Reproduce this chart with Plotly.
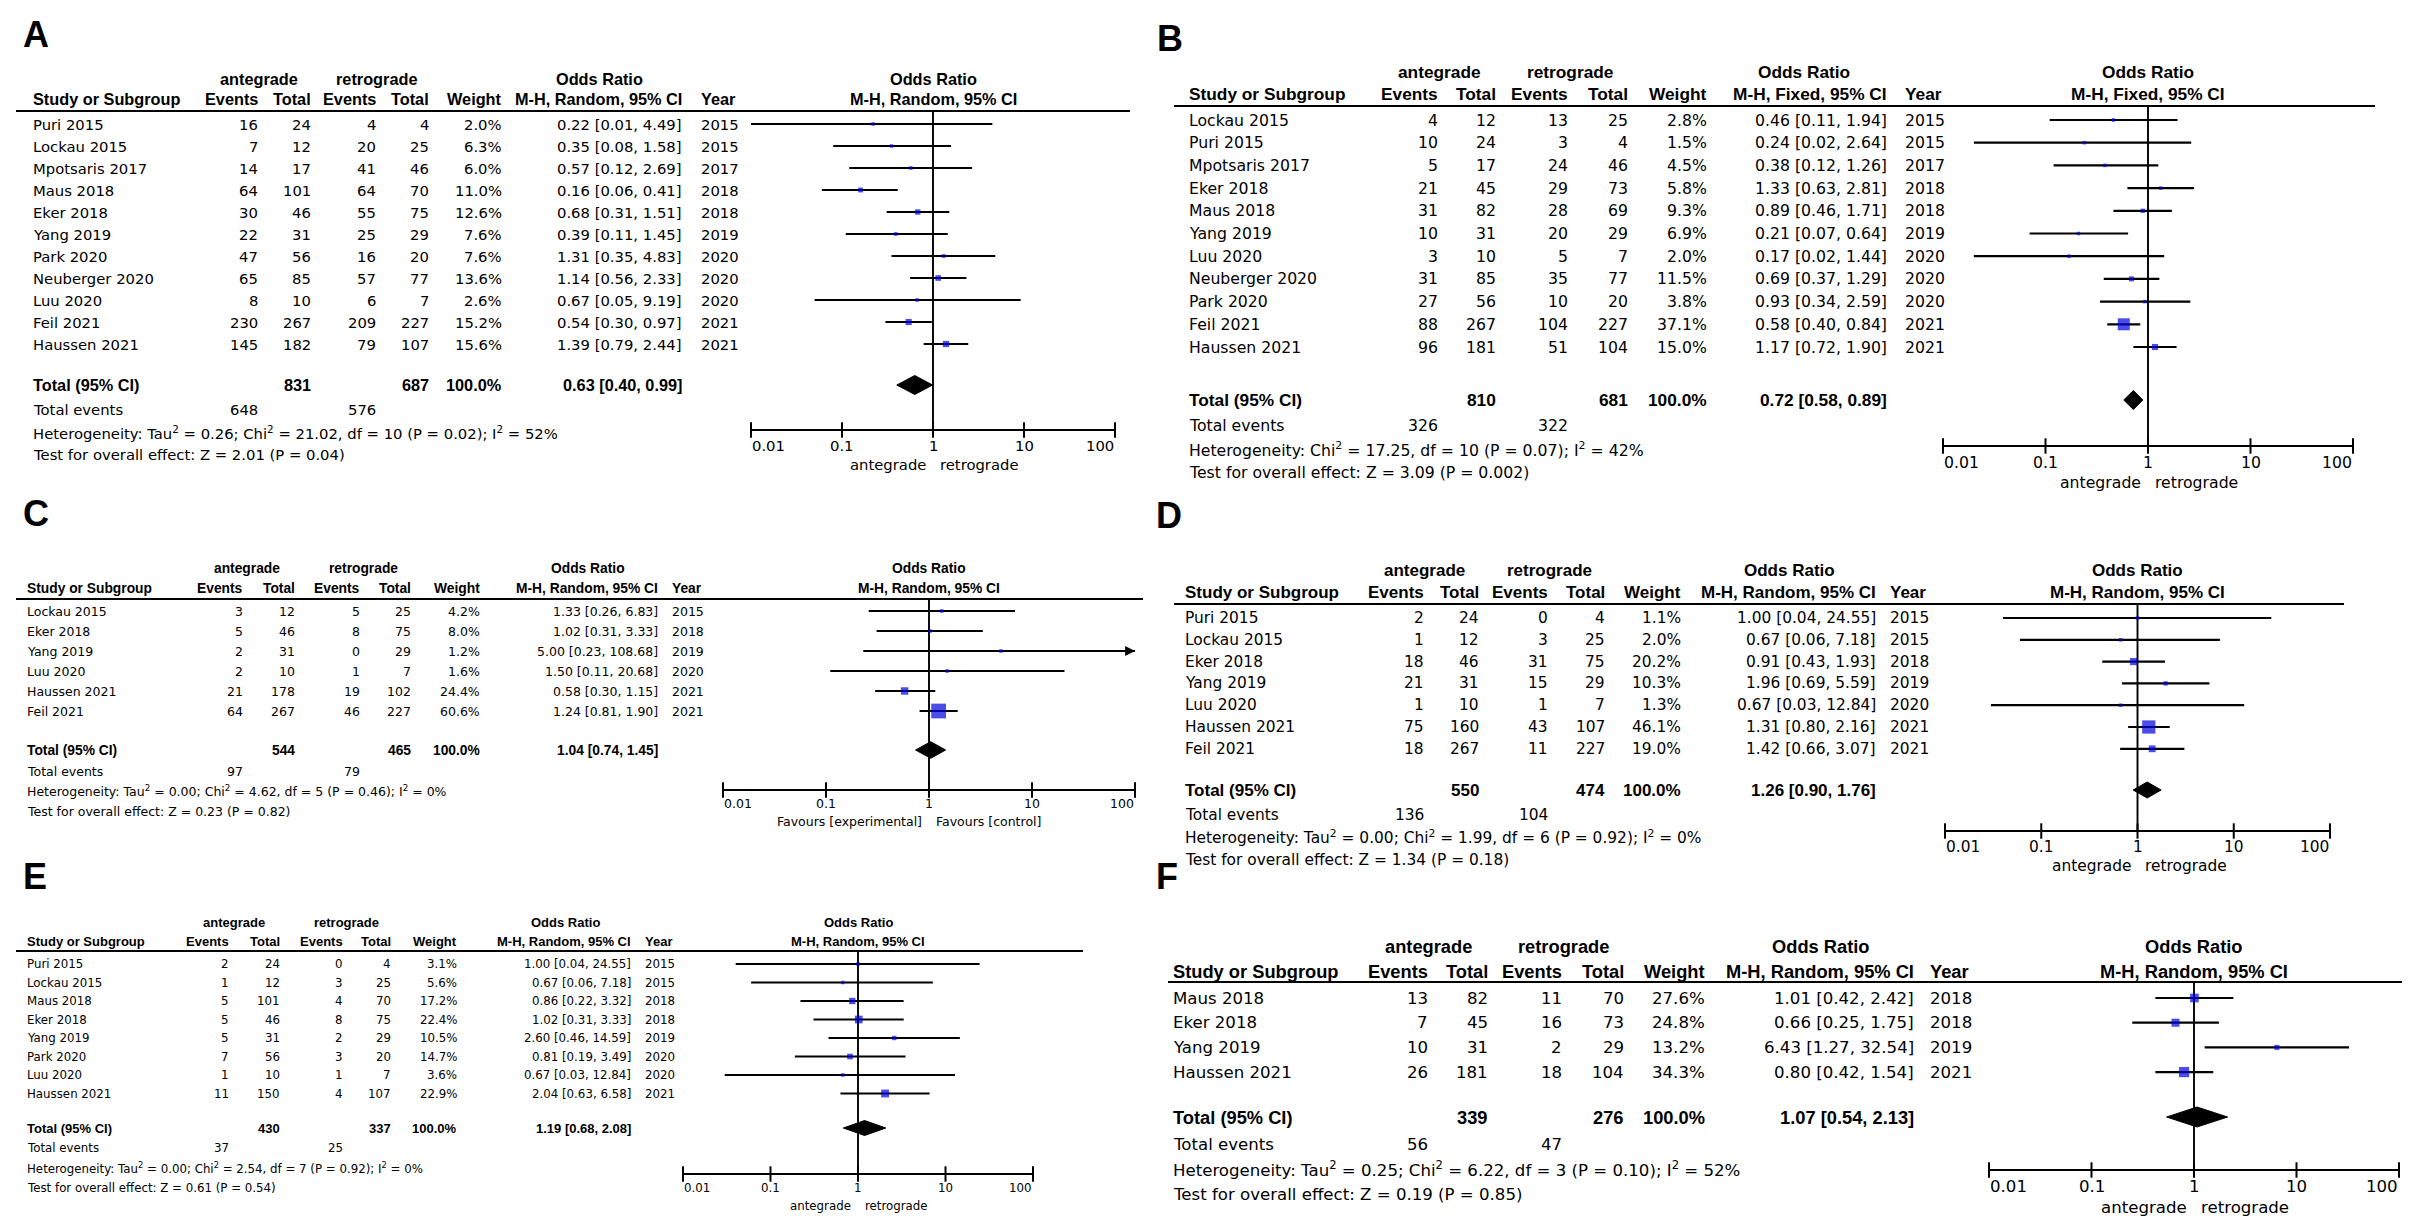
import numpy as np
import plotly.graph_objects as go

W, H = 2410, 1225
FONT = "DejaVu Sans"
BOLD_FONT = "Liberation Sans"
LABEL_FONT = "Liberation Sans"

# ---------------- DATA ----------------
A_study = ["Puri 2015", "Lockau 2015", "Mpotsaris 2017", "Maus 2018", "Eker 2018", "Yang 2019",
           "Park 2020", "Neuberger 2020", "Luu 2020", "Feil 2021", "Haussen 2021"]
A_ant_ev = [16, 7, 14, 64, 30, 22, 47, 65, 8, 230, 145]
A_ant_tot = [24, 12, 17, 101, 46, 31, 56, 85, 10, 267, 182]
A_ret_ev = [4, 20, 41, 64, 55, 25, 16, 57, 6, 209, 79]
A_ret_tot = [4, 25, 46, 70, 75, 29, 20, 77, 7, 227, 107]
A_weight = [2.0, 6.3, 6.0, 11.0, 12.6, 7.6, 7.6, 13.6, 2.6, 15.2, 15.6]
A_or = [0.22, 0.35, 0.57, 0.16, 0.68, 0.39, 1.31, 1.14, 0.67, 0.54, 1.39]
A_lo = [0.01, 0.08, 0.12, 0.06, 0.31, 0.11, 0.35, 0.56, 0.05, 0.30, 0.79]
A_hi = [4.49, 1.58, 2.69, 0.41, 1.51, 1.45, 4.83, 2.33, 9.19, 0.97, 2.44]
A_year = [2015, 2015, 2017, 2018, 2018, 2019, 2020, 2020, 2020, 2021, 2021]
A_totals = [831, 687]
A_events = [648, 576]
A_pooled = [0.63, 0.40, 0.99]
A_het = "Heterogeneity: Tau<sup>2</sup> = 0.26; Chi<sup>2</sup> = 21.02, df = 10 (P = 0.02); I<sup>2</sup> = 52%"
A_test = "Test for overall effect: Z = 2.01 (P = 0.04)"

B_study = ["Lockau 2015", "Puri 2015", "Mpotsaris 2017", "Eker 2018", "Maus 2018", "Yang 2019",
           "Luu 2020", "Neuberger 2020", "Park 2020", "Feil 2021", "Haussen 2021"]
B_ant_ev = [4, 10, 5, 21, 31, 10, 3, 31, 27, 88, 96]
B_ant_tot = [12, 24, 17, 45, 82, 31, 10, 85, 56, 267, 181]
B_ret_ev = [13, 3, 24, 29, 28, 20, 5, 35, 10, 104, 51]
B_ret_tot = [25, 4, 46, 73, 69, 29, 7, 77, 20, 227, 104]
B_weight = [2.8, 1.5, 4.5, 5.8, 9.3, 6.9, 2.0, 11.5, 3.8, 37.1, 15.0]
B_or = [0.46, 0.24, 0.38, 1.33, 0.89, 0.21, 0.17, 0.69, 0.93, 0.58, 1.17]
B_lo = [0.11, 0.02, 0.12, 0.63, 0.46, 0.07, 0.02, 0.37, 0.34, 0.40, 0.72]
B_hi = [1.94, 2.64, 1.26, 2.81, 1.71, 0.64, 1.44, 1.29, 2.59, 0.84, 1.90]
B_year = [2015, 2015, 2017, 2018, 2018, 2019, 2020, 2020, 2020, 2021, 2021]
B_totals = [810, 681]
B_events = [326, 322]
B_pooled = [0.72, 0.58, 0.89]
B_het = "Heterogeneity: Chi<sup>2</sup> = 17.25, df = 10 (P = 0.07); I<sup>2</sup> = 42%"
B_test = "Test for overall effect: Z = 3.09 (P = 0.002)"

C_study = ["Lockau 2015", "Eker 2018", "Yang 2019", "Luu 2020", "Haussen 2021", "Feil 2021"]
C_ant_ev = [3, 5, 2, 2, 21, 64]
C_ant_tot = [12, 46, 31, 10, 178, 267]
C_ret_ev = [5, 8, 0, 1, 19, 46]
C_ret_tot = [25, 75, 29, 7, 102, 227]
C_weight = [4.2, 8.0, 1.2, 1.6, 24.4, 60.6]
C_or = [1.33, 1.02, 5.00, 1.50, 0.58, 1.24]
C_lo = [0.26, 0.31, 0.23, 0.11, 0.30, 0.81]
C_hi = [6.83, 3.33, 108.68, 20.68, 1.15, 1.90]
C_year = [2015, 2018, 2019, 2020, 2021, 2021]
C_totals = [544, 465]
C_events = [97, 79]
C_pooled = [1.04, 0.74, 1.45]
C_het = "Heterogeneity: Tau<sup>2</sup> = 0.00; Chi<sup>2</sup> = 4.62, df = 5 (P = 0.46); I<sup>2</sup> = 0%"
C_test = "Test for overall effect: Z = 0.23 (P = 0.82)"

D_study = ["Puri 2015", "Lockau 2015", "Eker 2018", "Yang 2019", "Luu 2020", "Haussen 2021", "Feil 2021"]
D_ant_ev = [2, 1, 18, 21, 1, 75, 18]
D_ant_tot = [24, 12, 46, 31, 10, 160, 267]
D_ret_ev = [0, 3, 31, 15, 1, 43, 11]
D_ret_tot = [4, 25, 75, 29, 7, 107, 227]
D_weight = [1.1, 2.0, 20.2, 10.3, 1.3, 46.1, 19.0]
D_or = [1.00, 0.67, 0.91, 1.96, 0.67, 1.31, 1.42]
D_lo = [0.04, 0.06, 0.43, 0.69, 0.03, 0.80, 0.66]
D_hi = [24.55, 7.18, 1.93, 5.59, 12.84, 2.16, 3.07]
D_year = [2015, 2015, 2018, 2019, 2020, 2021, 2021]
D_totals = [550, 474]
D_events = [136, 104]
D_pooled = [1.26, 0.90, 1.76]
D_het = "Heterogeneity: Tau<sup>2</sup> = 0.00; Chi<sup>2</sup> = 1.99, df = 6 (P = 0.92); I<sup>2</sup> = 0%"
D_test = "Test for overall effect: Z = 1.34 (P = 0.18)"

E_study = ["Puri 2015", "Lockau 2015", "Maus 2018", "Eker 2018", "Yang 2019", "Park 2020", "Luu 2020", "Haussen 2021"]
E_ant_ev = [2, 1, 5, 5, 5, 7, 1, 11]
E_ant_tot = [24, 12, 101, 46, 31, 56, 10, 150]
E_ret_ev = [0, 3, 4, 8, 2, 3, 1, 4]
E_ret_tot = [4, 25, 70, 75, 29, 20, 7, 107]
E_weight = [3.1, 5.6, 17.2, 22.4, 10.5, 14.7, 3.6, 22.9]
E_or = [1.00, 0.67, 0.86, 1.02, 2.60, 0.81, 0.67, 2.04]
E_lo = [0.04, 0.06, 0.22, 0.31, 0.46, 0.19, 0.03, 0.63]
E_hi = [24.55, 7.18, 3.32, 3.33, 14.59, 3.49, 12.84, 6.58]
E_year = [2015, 2015, 2018, 2018, 2019, 2020, 2020, 2021]
E_totals = [430, 337]
E_events = [37, 25]
E_pooled = [1.19, 0.68, 2.08]
E_het = "Heterogeneity: Tau<sup>2</sup> = 0.00; Chi<sup>2</sup> = 2.54, df = 7 (P = 0.92); I<sup>2</sup> = 0%"
E_test = "Test for overall effect: Z = 0.61 (P = 0.54)"

F_study = ["Maus 2018", "Eker 2018", "Yang 2019", "Haussen 2021"]
F_ant_ev = [13, 7, 10, 26]
F_ant_tot = [82, 45, 31, 181]
F_ret_ev = [11, 16, 2, 18]
F_ret_tot = [70, 73, 29, 104]
F_weight = [27.6, 24.8, 13.2, 34.3]
F_or = [1.01, 0.66, 6.43, 0.80]
F_lo = [0.42, 0.25, 1.27, 0.42]
F_hi = [2.42, 1.75, 32.54, 1.54]
F_year = [2018, 2018, 2019, 2021]
F_totals = [339, 276]
F_events = [56, 47]
F_pooled = [1.07, 0.54, 2.13]
F_het = "Heterogeneity: Tau<sup>2</sup> = 0.25; Chi<sup>2</sup> = 6.22, df = 3 (P = 0.10); I<sup>2</sup> = 52%"
F_test = "Test for overall effect: Z = 0.19 (P = 0.85)"

TICK_VALUES = [0.01, 0.1, 1, 10, 100]
TICK_LABELS = ["0.01", "0.1", "1", "10", "100"]
GROUPS = ["antegrade", "retrograde"]
FAV_DEFAULT = ["antegrade", "retrograde"]
FAV_C = ["Favours [experimental]", "Favours [control]"]

# ---------------- LAYOUT (pixel positions) ----------------
LAY = {
    "A": dict(label=(14, 26), fs=14.8, hs=16.3, sx=24, cols=[251, 304, 369, 422, 495, 675], yx=692,
              h1=71, h2=91, rule=103, rule_x=(8, 1122), row0=116, dy=22.0,
              tot=377, ev=401, het=424, test=446, fx=(743, 1107), axis=422, tick=437, fav=456,
              dh=9.5, msc=0.80),
    "B": dict(label=(1148, 30), fs=15.7, hs=17.3, sx=1180, cols=[1431, 1489, 1561, 1621, 1700, 1880], yx=1896,
              h1=64, h2=86, rule=98, rule_x=(1166, 2367), row0=112, dy=22.7,
              tot=392, ev=417, het=441, test=464, fx=(1935, 2345), axis=438, tick=454, fav=474,
              dh=9.5, msc=0.80),
    "C": dict(label=(14, 505), fs=12.5, hs=13.8, sx=18, cols=[236, 288, 353, 404, 473, 651], yx=663,
              h1=560, h2=580, rule=591, rule_x=(8, 1135), row0=603, dy=20.0,
              tot=742, ev=763, het=783, test=803, fx=(715, 1127), axis=782, tick=795, fav=813,
              dh=8.3, msc=0.68),
    "D": dict(label=(1147, 507), fs=15.4, hs=17.0, sx=1176, cols=[1417, 1472, 1541, 1598, 1674, 1869], yx=1881,
              h1=562, h2=584, rule=596, rule_x=(1166, 2336), row0=610, dy=21.8,
              tot=782, ev=807, het=829, test=852, fx=(1937, 2322), axis=823, tick=839, fav=858,
              dh=8.0, msc=0.75),
    "E": dict(label=(14, 868), fs=11.8, hs=13.0, sx=18, cols=[222, 273, 336, 384, 450, 624], yx=636,
              h1=914, h2=933, rule=943, rule_x=(8, 1075), row0=956, dy=18.5,
              tot=1120, ev=1140, het=1160, test=1180, fx=(675, 1025), axis=1166, tick=1180, fav=1198,
              dh=7.5, msc=0.75),
    "F": dict(label=(1147, 868), fs=16.6, hs=18.3, sx=1164, cols=[1421, 1481, 1555, 1617, 1698, 1907], yx=1921,
              h1=938, h2=963, rule=974, rule_x=(1160, 2403), row0=990, dy=24.7,
              tot=1109, ev=1136, het=1161, test=1186, fx=(1981, 2391), axis=1162, tick=1178, fav=1199,
              dh=10.0, msc=0.72),
}

PANELS = [
    ("A", A_study, A_ant_ev, A_ant_tot, A_ret_ev, A_ret_tot, A_weight, A_or, A_lo, A_hi, A_year,
     A_totals, A_events, A_pooled, A_het, A_test, "M-H, Random, 95% CI", FAV_DEFAULT),
    ("B", B_study, B_ant_ev, B_ant_tot, B_ret_ev, B_ret_tot, B_weight, B_or, B_lo, B_hi, B_year,
     B_totals, B_events, B_pooled, B_het, B_test, "M-H, Fixed, 95% CI", FAV_DEFAULT),
    ("C", C_study, C_ant_ev, C_ant_tot, C_ret_ev, C_ret_tot, C_weight, C_or, C_lo, C_hi, C_year,
     C_totals, C_events, C_pooled, C_het, C_test, "M-H, Random, 95% CI", FAV_C),
    ("D", D_study, D_ant_ev, D_ant_tot, D_ret_ev, D_ret_tot, D_weight, D_or, D_lo, D_hi, D_year,
     D_totals, D_events, D_pooled, D_het, D_test, "M-H, Random, 95% CI", FAV_DEFAULT),
    ("E", E_study, E_ant_ev, E_ant_tot, E_ret_ev, E_ret_tot, E_weight, E_or, E_lo, E_hi, E_year,
     E_totals, E_events, E_pooled, E_het, E_test, "M-H, Random, 95% CI", FAV_DEFAULT),
    ("F", F_study, F_ant_ev, F_ant_tot, F_ret_ev, F_ret_tot, F_weight, F_or, F_lo, F_hi, F_year,
     F_totals, F_events, F_pooled, F_het, F_test, "M-H, Random, 95% CI", FAV_DEFAULT),
]

BLUE = "#0000e0"
fig = go.Figure()
anns = []
shapes = []


def txt(x, y, s, fs, anchor="left", bold=False, family=None, xshift=0):
    fam = family if family else (BOLD_FONT if bold else FONT)
    anns.append(dict(x=x / W, y=y, xref="paper", yref="y",
                     text=(f"<b>{s}</b>" if bold else s), showarrow=False,
                     xanchor=anchor, yanchor="middle", borderpad=0, xshift=xshift,
                     font=dict(family=fam, size=fs, color="black")))


def ci_text(o, l, h):
    return f"{o:.2f} [{l:.2f}, {h:.2f}]"


PAD = 0.06
layout_axes = {}
for i, P in enumerate(PANELS):
    (key, study, aev, atot, rev, rtot, wt, orv, lo, hi, yr, totals, events, pooled,
     het, test, method, fav) = P
    L = LAY[key]
    fs, hs = L["fs"], L["hs"]
    axname = "x" if i == 0 else f"x{i + 1}"
    axkey = "xaxis" if i == 0 else f"xaxis{i + 1}"
    fx0, fx1 = L["fx"]
    dec = (fx1 - fx0) / 4.0
    layout_axes[axkey] = dict(type="log", range=[-2 - PAD, 2 + PAD],
                              domain=[(fx0 - PAD * dec) / W, (fx1 + PAD * dec) / W],
                              visible=False, anchor="y", fixedrange=True)

    def fpx(v):  # pixel x of a value on this panel's log scale (used for label placement)
        return fx0 + (np.log10(v) - np.log10(TICK_VALUES[0])) * dec

    rows = [L["row0"] + L["dy"] * k for k in range(len(study))]
    c_aev, c_atot, c_rev, c_rtot, c_w, c_ci = L["cols"]

    # panel label
    txt(L["label"][0], L["label"][1], key, 36, "left", True, family=LABEL_FONT)

    # header lines
    ev_w = 3.28 * hs
    txt((c_aev - ev_w + c_atot) / 2, L["h1"], GROUPS[0], hs, "center", True)
    txt((c_rev - ev_w + c_rtot) / 2, L["h1"], GROUPS[1], hs, "center", True)
    meth_w = 0.54 * hs * len(method)
    txt(c_ci - meth_w / 2, L["h1"], "Odds Ratio", hs, "center", True)
    txt(fpx(1), L["h1"], "Odds Ratio", hs, "center", True)
    txt(L["sx"], L["h2"], "Study or Subgroup", hs, "left", True)
    for cx, lab in zip([c_aev, c_atot, c_rev, c_rtot, c_w], ["Events", "Total", "Events", "Total", "Weight"]):
        txt(cx, L["h2"], lab, hs, "right", True)
    txt(c_ci, L["h2"], method, hs, "right", True)
    txt(L["yx"], L["h2"], "Year", hs, "left", True)
    txt(fpx(1), L["h2"], method, hs, "center", True)
    shapes.append(dict(type="line", xref="paper", yref="y", x0=L["rule_x"][0] / W, x1=L["rule_x"][1] / W,
                       y0=L["rule"], y1=L["rule"], line=dict(color="black", width=2.2)))

    # study rows
    for k in range(len(study)):
        y = rows[k]
        txt(L["sx"], y, study[k], fs, "left")
        txt(c_aev, y, str(aev[k]), fs, "right")
        txt(c_atot, y, str(atot[k]), fs, "right")
        txt(c_rev, y, str(rev[k]), fs, "right")
        txt(c_rtot, y, str(rtot[k]), fs, "right")
        txt(c_w, y, f"{wt[k]:.1f}%", fs, "right")
        txt(c_ci, y, ci_text(orv[k], lo[k], hi[k]), fs, "right")
        txt(L["yx"], y, str(yr[k]), fs, "left")

    # totals
    txt(L["sx"], L["tot"], "Total (95% CI)", hs, "left", True)
    txt(c_atot, L["tot"], str(totals[0]), hs, "right", True)
    txt(c_rtot, L["tot"], str(totals[1]), hs, "right", True)
    txt(c_w, L["tot"], "100.0%", hs, "right", True)
    txt(c_ci, L["tot"], ci_text(*pooled), hs, "right", True)
    txt(L["sx"], L["ev"], "Total events", fs, "left")
    txt(c_aev, L["ev"], str(events[0]), fs, "right")
    txt(c_rev, L["ev"], str(events[1]), fs, "right")
    txt(L["sx"], L["het"], het, fs, "left")
    txt(L["sx"], L["test"], test, fs, "left")

    # ---- forest plot ----
    fig.add_trace(go.Scatter(x=[1, 1], y=[L["rule"], L["axis"]], mode="lines",
                             line=dict(color="black", width=1.9), xaxis=axname, yaxis="y",
                             hoverinfo="skip"))
    xs, ys = [], []
    for k in range(len(study)):
        xs += [max(lo[k], TICK_VALUES[0]), min(hi[k], TICK_VALUES[-1]), None]
        ys += [rows[k], rows[k], None]
        if hi[k] > TICK_VALUES[-1]:
            anns.append(dict(x=np.log10(TICK_VALUES[-1]), y=rows[k], xref=axname, yref="y",
                             ax=-14, ay=0, showarrow=True, arrowhead=2, arrowsize=1.1,
                             arrowwidth=1.8, arrowcolor="black", text=" "))
    fig.add_trace(go.Scatter(x=xs, y=ys, mode="lines", line=dict(color="black", width=2.2),
                             xaxis=axname, yaxis="y", hoverinfo="skip"))
    sizes = [max(3.5, L["msc"] * w ** 0.75) for w in wt]
    fig.add_trace(go.Scatter(x=orv, y=rows, mode="markers", xaxis=axname, yaxis="y",
                             marker=dict(symbol="square", size=sizes, color=BLUE, line=dict(width=0)),
                             cliponaxis=False, hoverinfo="skip"))
    o, l, h = pooled
    t = L["tot"]
    d = L["dh"]
    fig.add_trace(go.Scatter(x=[l, o, h, o, l], y=[t, t - d, t, t + d, t], mode="lines",
                             fill="toself", fillcolor="black", line=dict(color="black", width=1),
                             xaxis=axname, yaxis="y", hoverinfo="skip"))
    fig.add_trace(go.Scatter(x=[TICK_VALUES[0], TICK_VALUES[-1]], y=[L["axis"], L["axis"]], mode="lines",
                             line=dict(color="black", width=2.2), xaxis=axname, yaxis="y", hoverinfo="skip"))
    fig.add_trace(go.Scatter(x=TICK_VALUES, y=[L["axis"]] * len(TICK_VALUES), mode="markers",
                             marker=dict(symbol="line-ns", size=11, line=dict(color="black", width=2)),
                             xaxis=axname, yaxis="y", cliponaxis=False, hoverinfo="skip"))
    for j, (tv, tl) in enumerate(zip(TICK_VALUES, TICK_LABELS)):
        anc = "left" if j == 0 else ("right" if j == len(TICK_VALUES) - 1 else "center")
        txt(fpx(tv), L["tick"], tl, fs, anc)
    txt(fpx(1), L["fav"], fav[0], fs, "right", xshift=-6)
    txt(fpx(1), L["fav"], fav[1], fs, "left", xshift=6)

fig.update_layout(
    width=W, height=H, margin=dict(l=0, r=0, t=0, b=0),
    paper_bgcolor="white", plot_bgcolor="rgba(0,0,0,0)", showlegend=False,
    yaxis=dict(range=[H, 0], domain=[0, 1], visible=False, fixedrange=True),
    annotations=anns, shapes=shapes,
    **layout_axes,
)

fig.write_html("out.html")
